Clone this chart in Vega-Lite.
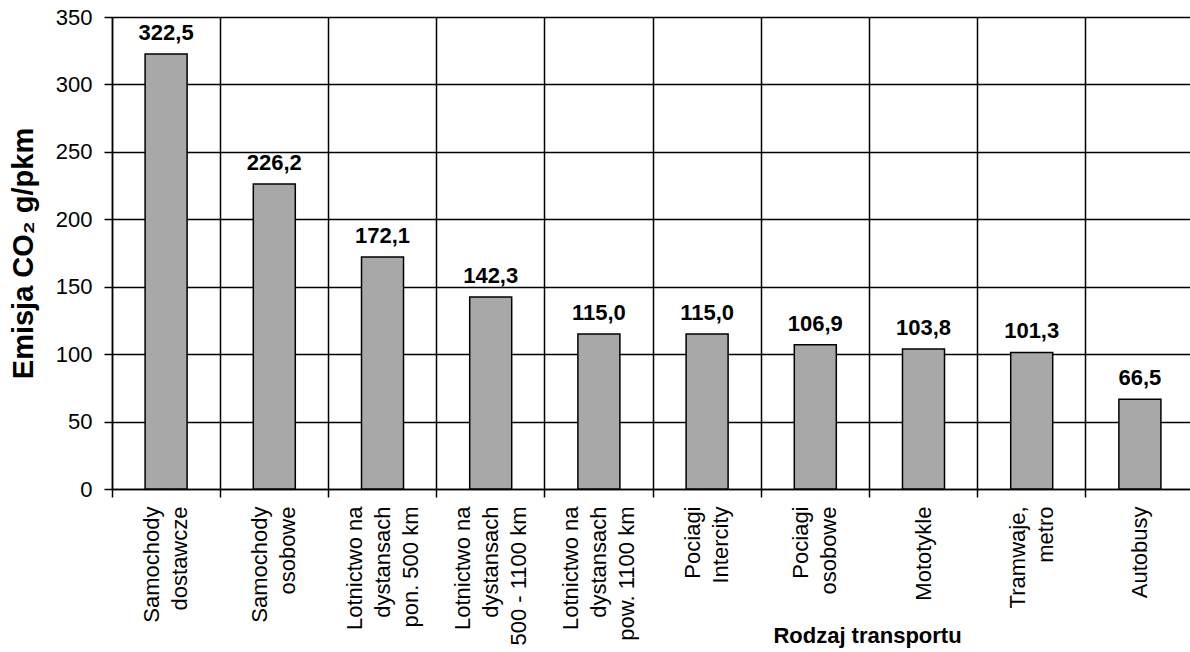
{
  "$schema": "https://vega.github.io/schema/vega-lite/v6.json",
  "autosize": {"type": "none"},
  "padding": {"left": 112, "top": 17, "right": 0, "bottom": 163},
  "width": 1078,
  "height": 472,
  "background": "white",
  "config": {
    "view": {"stroke": null},
    "font": "Liberation Sans",
    "locale": {"number": {"decimal": ",", "thousands": " ", "grouping": [3], "currency": ["", ""]}}
  },
  "data": {
    "values": [
      {"rodzaj": "Samochody\ndostawcze", "emisja": 322.5},
      {"rodzaj": "Samochody\nosobowe", "emisja": 226.2},
      {"rodzaj": "Lotnictwo na\ndystansach\npon. 500 km", "emisja": 172.1},
      {"rodzaj": "Lotnictwo na\ndystansach\n500 - 1100 km", "emisja": 142.3},
      {"rodzaj": "Lotnictwo na\ndystansach\npow. 1100 km", "emisja": 115.0},
      {"rodzaj": "Pociagi\nIntercity", "emisja": 115.0},
      {"rodzaj": "Pociagi\nosobowe", "emisja": 106.9},
      {"rodzaj": "Mototykle", "emisja": 103.8},
      {"rodzaj": "Tramwaje,\nmetro", "emisja": 101.3},
      {"rodzaj": "Autobusy", "emisja": 66.5}
    ]
  },
  "encoding": {
    "x": {
      "field": "rodzaj",
      "type": "nominal",
      "sort": null,
      "scale": {"range": [0, 1082], "paddingInner": 0, "paddingOuter": 0},
      "axis": {
        "bandPosition": 0,
        "grid": true,
        "gridColor": "#000",
        "gridWidth": 1.5,
        "gridOpacity": 1,
        "domainColor": "#000",
        "domainWidth": 1.5,
        "tickColor": "#000",
        "tickWidth": 1.5,
        "tickSize": 8,
        "labelAngle": -90,
        "labelAlign": "right",
        "labelBaseline": "middle",
        "labelOffset": {
          "condition": [
            {"test": "length(split(datum.value, '\\n')) == 3", "value": -28},
            {"test": "length(split(datum.value, '\\n')) == 2", "value": -14}
          ],
          "value": 0
        },
        "labelPadding": 9,
        "labelFontSize": 22,
        "labelLineHeight": 28,
        "labelColor": "#000",
        "labelLimit": 0,
        "labelOverlap": false,
        "labelExpr": "split(datum.value, '\\n')",
        "title": "Rodzaj transportu",
        "titleFontSize": 22,
        "titleFontWeight": "bold",
        "titleColor": "#000",
        "titleX": 755,
        "titleY": 153,
        "titleAlign": "center",
        "titleBaseline": "alphabetic"
      }
    }
  },
  "layer": [
    {
      "mark": {"type": "bar", "fill": "#a8a8a8", "stroke": "#000", "strokeWidth": 1.5, "width": 42},
      "encoding": {
        "y": {
          "field": "emisja",
          "type": "quantitative",
          "scale": {"domain": [0, 350], "nice": false},
          "axis": {
            "values": [0, 50, 100, 150, 200, 250, 300, 350],
            "format": "d",
            "grid": true,
            "gridColor": "#000",
            "gridWidth": 1.5,
            "gridOpacity": 1,
            "domainColor": "#000",
            "domainWidth": 1.5,
            "tickColor": "#000",
            "tickWidth": 1.5,
            "tickSize": 8,
            "labelPadding": 12,
            "labelFontSize": 22,
            "labelColor": "#000",
            "title": "Emisja CO₂ g/pkm",
            "titleFontSize": 29,
            "titleFontWeight": "bold",
            "titleColor": "#000",
            "titleAngle": -90,
            "titleX": -89,
            "titleY": 236,
            "titleAlign": "center",
            "titleBaseline": "middle"
          }
        }
      }
    },
    {
      "mark": {"type": "text", "fontSize": 22, "fontWeight": "bold", "color": "#000", "baseline": "alphabetic", "dy": -14},
      "encoding": {
        "y": {"field": "emisja", "type": "quantitative"},
        "text": {"field": "emisja", "type": "quantitative", "format": ".1f"}
      }
    }
  ]
}
